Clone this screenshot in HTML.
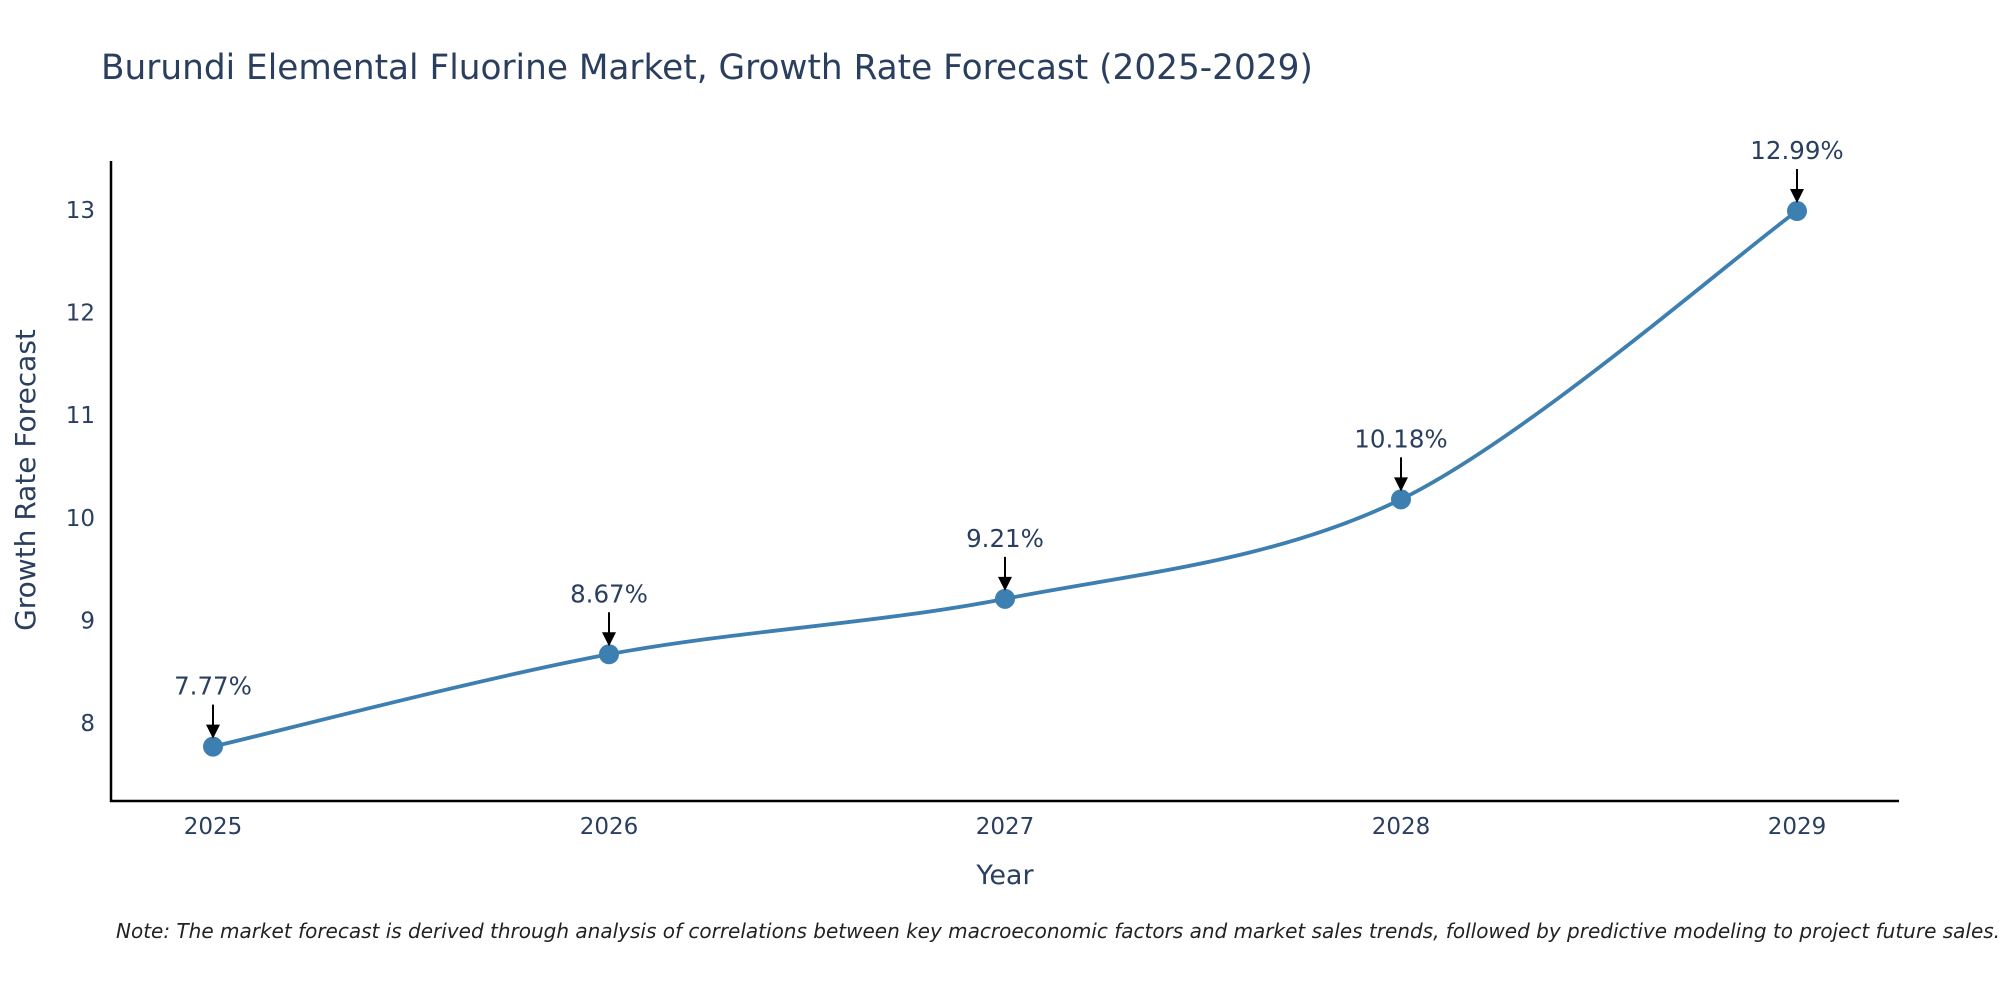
<!DOCTYPE html>
<html><head><meta charset="utf-8"><style>
body{margin:0;background:#fff;}
svg{display:block;font-family:"DejaVu Sans","Liberation Sans",sans-serif;}
</style></head><body>
<svg id="chart" width="2000" height="1000" viewBox="0 0 2000 1000">
<text x="101" y="79" font-size="34.3" fill="#2a3f5f">Burundi Elemental Fluorine Market, Growth Rate Forecast (2025-2029)</text>
<g id="yticks"></g>
<g id="xticks"></g>
<line x1="111" y1="161" x2="111" y2="802" stroke="#000" stroke-width="2.5"/>
<line x1="110" y1="801" x2="1899" y2="801" stroke="#000" stroke-width="2.5"/>
<path id="line" fill="none" stroke="#3d7fb0" stroke-width="3.8"/>
<g id="marks"></g>
<text x="1005" y="884" font-size="27" fill="#2a3f5f" text-anchor="middle">Year</text>
<text transform="translate(35,480) rotate(-90)" font-size="28" fill="#2a3f5f" text-anchor="middle">Growth Rate Forecast</text>
<text x="116" y="938" font-size="20" font-style="italic" fill="#222">Note: The market forecast is derived through analysis of correlations between key macroeconomic factors and market sales trends, followed by predictive modeling to project future sales.</text>
</svg>
<script>
const years=[2025,2026,2027,2028,2029];
const values=[7.77,8.67,9.21,10.18,12.99];
const labels=["7.77%","8.67%","9.21%","10.18%","12.99%"];
const yTicks=[8,9,10,11,12,13];
const NS="http://www.w3.org/2000/svg";
const X=i=>213+(1797-213)*i/(years.length-1);
const Y=v=>723-(v-8)*102.6;
function mk(t,a,p){const e=document.createElementNS(NS,t);for(const k in a)e.setAttribute(k,a[k]);p.appendChild(e);return e;}
const yg=document.getElementById('yticks'),xg=document.getElementById('xticks'),mg=document.getElementById('marks');
yTicks.forEach(v=>{const t=mk('text',{x:95,y:Y(v)+8,'font-size':23,fill:'#2a3f5f','text-anchor':'end'},yg);t.textContent=v;

});
years.forEach((yr,i)=>{const t=mk('text',{x:X(i),y:834,'font-size':23,fill:'#2a3f5f','text-anchor':'middle'},xg);t.textContent=yr;

});
const pts=values.map((v,i)=>[X(i),Y(v)]);
let d=`M${pts[0][0]},${pts[0][1]}`;
const s=0.16;
for(let i=0;i<pts.length-1;i++){const p0=pts[Math.max(i-1,0)],p1=pts[i],p2=pts[i+1],p3=pts[Math.min(i+2,pts.length-1)];
const c1=[p1[0]+(p2[0]-p0[0])*s,p1[1]+(p2[1]-p0[1])*s],c2=[p2[0]-(p3[0]-p1[0])*s,p2[1]-(p3[1]-p1[1])*s];
d+=` C${c1[0]},${c1[1]} ${c2[0]},${c2[1]} ${p2[0]},${p2[1]}`;}
document.getElementById('line').setAttribute('d',d);
pts.forEach((p,i)=>{
const c=mk('circle',{cx:p[0],cy:p[1],r:10,fill:'#3d7fb0'},mg);


const l=mk('line',{x1:p[0],y1:p[1]-42,x2:p[0],y2:p[1]-20,stroke:'#000','stroke-width':2},mg);


const a=mk('polygon',{points:`${p[0]-7},${p[1]-22} ${p[0]+7},${p[1]-22} ${p[0]},${p[1]-8}`,fill:'#000'},mg);


const t=mk('text',{x:p[0],y:p[1]-52,'font-size':24.5,fill:'#2a3f5f','text-anchor':'middle'},mg);t.textContent=labels[i];


});
</script>
</body></html>
